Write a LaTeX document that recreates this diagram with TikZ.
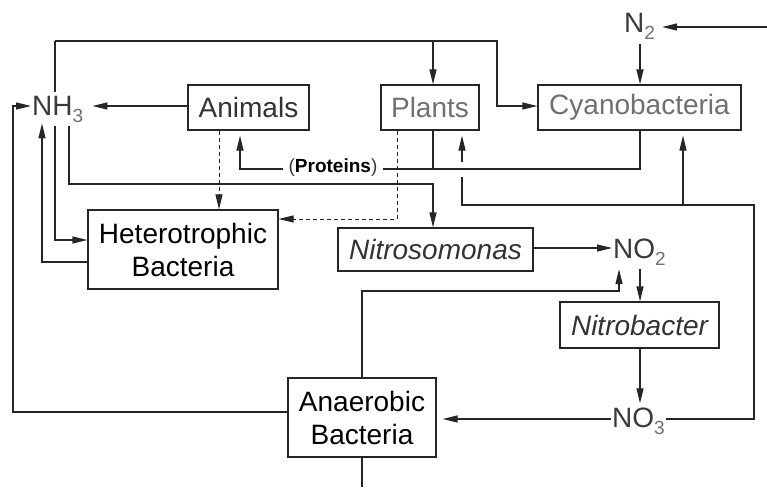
\documentclass[tikz,border=0pt]{standalone}
\usepackage{fontspec}
\setmainfont{Liberation Sans}
\usetikzlibrary{arrows.meta}
\definecolor{linec}{HTML}{262626}
\definecolor{chemc}{HTML}{3A3A3A}
\definecolor{subc}{HTML}{707070}
\definecolor{grayt}{HTML}{707070}
\definecolor{darkt}{HTML}{333333}
\newcommand\bigf{\fontsize{28}{33}\selectfont}
\newcommand\chsub[1]{\raisebox{-7pt}{\fontsize{19}{19}\selectfont\color{subc}#1}}
\begin{document}
\begin{tikzpicture}[x=1pt,y=-1pt,
  box/.style={draw=linec, line width=1.2pt, inner sep=0pt, font=\bigf, align=center},
  conn/.style={draw=linec, line width=1.2pt},
  arr/.style={-{Triangle[length=15pt,width=7pt]}},
  dsh/.style={dash pattern=on 4pt off 3pt, line width=1pt},
  chem/.style={fill=white, inner xsep=1pt, inner ysep=4pt, font=\bigf, text=chemc, anchor=base west}]
\useasboundingbox[fill=white] (0,0) rectangle (767,487);
% boxes
\node[box, minimum width=121pt, minimum height=45pt, text=darkt] (animals) at (248.5,107.5) {Animals};
\node[box, minimum width=98pt, minimum height=45pt, text=grayt] (plants) at (430,107.5) {Plants};
\node[box, minimum width=203pt, minimum height=45pt, text=grayt] (cyano) at (639.5,107.5) {Cyanobacteria};
\node[box, minimum width=190pt, minimum height=79pt, text=black] (hetero) at (183,249.5) {Heterotrophic\\Bacteria};
\node[box, minimum width=195pt, minimum height=43pt, text=darkt] (nitroso) at (435.5,249.5) {\itshape Nitrosomonas};
\node[box, minimum width=159pt, minimum height=46pt, text=darkt] (nitrobac) at (639.5,325) {\itshape Nitrobacter};
\node[box, minimum width=148pt, minimum height=79pt, text=black] (anaer) at (362,417.5) {Anaerobic\\Bacteria};
% top loop through NH3 (drawn first, hidden behind NH3)
\coordinate (t1) at (55,41);
\coordinate (t2) at (497,41);
\coordinate (t3) at (497,106);
\coordinate (t4) at (433,41);
\coordinate (h1) at (55,240);
\draw[conn,arr] (t1) -- (t2) -- (t3) -- (cyano.west |- t3);
\draw[conn,arr] (t4) -- (plants.north -| t4);
\draw[conn,arr] (t1) -- (h1) -- (hetero.west |- h1);
% chemical nodes
\node[chem] (nh3) at (31,115) {NH\chsub{3}};
\node[chem] (n2) at (623,33) {N\chsub{2}};
\node[chem] (no2) at (612,258) {NO\chsub{2}};
\node[chem] (no3) at (611,427) {NO\chsub{3}};
% NH3 -> Nitrosomonas
\coordinate (n1) at (69,184);
\coordinate (n3) at (433,184);
\draw[conn,arr] (nh3.south -| n1) -- (n1) -- (n3) -- (nitroso.north -| n3);
% Animals -> NH3
\draw[conn,arr,shorten >=8pt] (animals.west |- 0,106) -- (nh3.east |- 0,106);
% Anaerobic -> NH3
\coordinate (l1) at (13,412);
\coordinate (l2) at (13,106);
\draw[conn,arr] (anaer.west |- l1) -- (l1) -- (l2) -- (nh3.west |- l2);
% Heterotrophic -> NH3
\coordinate (k1) at (42,262);
\draw[conn,arr,shorten >=-3pt] (hetero.west |- k1) -- (k1) -- (k1 |- nh3.south);
% dashed
\coordinate (a1) at (219,130);
\draw[conn,dsh,arr] (animals.south -| a1) -- (hetero.north -| a1);
\coordinate (p1) at (397,219);
\draw[conn,dsh,arr] (plants.south -| p1) -- (p1) -- (hetero.east |- p1);
% Proteins
\coordinate (q1) at (640,169);
\coordinate (q2) at (240,169);
\coordinate (q3) at (433,169);
\draw[conn,arr,shorten >=5pt] (cyano.south -| q1) -- (q1) -- (q2) -- (animals.south -| q2);
\draw[conn] (plants.south -| q3) -- (q3);
\node[fill=white, inner xsep=6pt, inner ysep=2pt, font=\fontsize{19}{19}\selectfont] (prot) at (333,168) {\textcolor{chemc}{(}\textbf{Proteins}\textcolor{chemc}{)}};
% NO3 feedback to plants and cyanobacteria
\coordinate (r1) at (754,419);
\coordinate (r2) at (754,205);
\coordinate (r3) at (462,205);
\coordinate (r4) at (683,205);
\coordinate (g1) at (462,177);
\coordinate (g2) at (462,162);
\draw[conn,arr,shorten >=5pt] (no3.east |- r1) -- (r1) -- (r2) -- (r3) -- (g1) (g2) -- (plants.south -| g2);
\draw[conn,arr,shorten >=5pt] (r4) -- (cyano.south -| r4);
% N2
\coordinate (e1) at (767,27);
\coordinate (e2) at (640,40);
\draw[conn,arr,shorten >=6pt] (e1) -- (n2.east |- e1);
\draw[conn,arr] (n2.south -| e2) -- (cyano.north -| e2);
% Nitrosomonas -> NO2
\draw[conn,arr] (nitroso.east |- 0,248) -- (no2.west |- 0,248);
% Anaerobic -> NO2
\coordinate (s1) at (362,291);
\coordinate (s2) at (619,291);
\draw[conn,arr] (anaer.north) -- (s1) -- (s2) -- (s2 |- no2.south);
% NO2 -> Nitrobacter -> NO3
\coordinate (v1) at (640,300);
\draw[conn,arr] (no2.south -| v1) -- (nitrobac.north -| v1);
\draw[conn,arr] (nitrobac.south -| v1) -- (no3.north -| v1);
% NO3 -> Anaerobic
\draw[conn,arr,shorten >=6pt] (no3.west |- 0,419) -- (anaer.east |- 0,419);
% Anaerobic down
\coordinate (u1) at (362,487);
\draw[conn] (anaer.south) -- (u1);
\end{tikzpicture}
\end{document}
